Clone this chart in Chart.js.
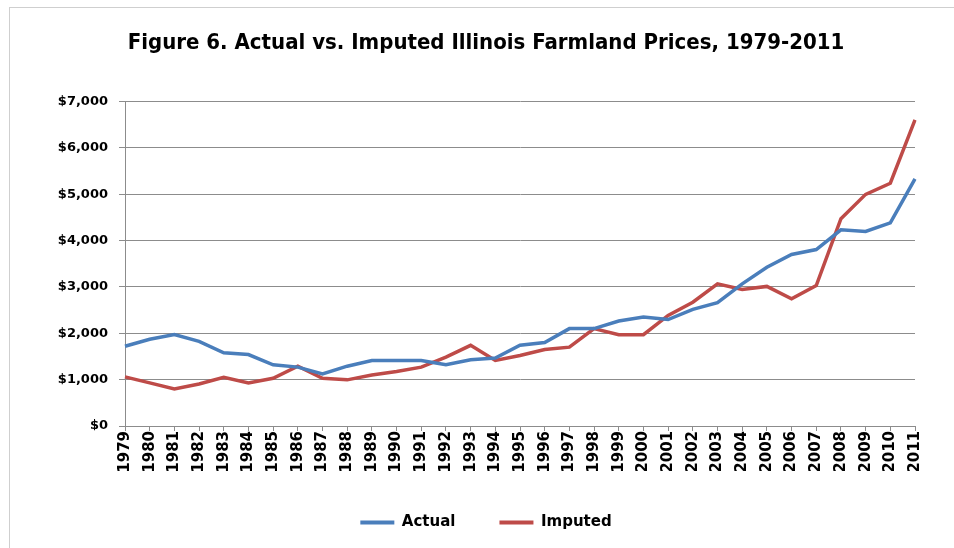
<!DOCTYPE html>
<html>
<head>
<meta charset="utf-8">
<script src="https://cdn.jsdelivr.net/npm/chart.js@4.4.1/dist/chart.umd.min.js"></script>
<style>
  html, body { margin: 0; padding: 0; background: #fff; }
  #wrap { position: relative; width: 954px; height: 548px; }
  #frame { position: absolute; left: 9px; top: 7px; right: 0; bottom: 0;
    border-top: 1px solid #cfcfcf; border-left: 1px solid #cfcfcf; pointer-events: none; }
</style>
</head>
<body>
<div id="wrap">
  <canvas id="myChart" width="954" height="548"></canvas>
  <div id="frame"></div>
</div>
<script>
'use strict';

const years = ['1979', '1980', '1981', '1982', '1983', '1984', '1985', '1986', '1987', '1988', '1989',
  '1990', '1991', '1992', '1993', '1994', '1995', '1996', '1997', '1998', '1999', '2000',
  '2001', '2002', '2003', '2004', '2005', '2006', '2007', '2008', '2009', '2010', '2011'];

// $ per acre
const actual = [1720, 1870, 1970, 1825, 1580, 1540, 1320, 1270, 1125, 1290, 1410,
  1410, 1410, 1320, 1430, 1465, 1740, 1800, 2100, 2100, 2265, 2350,
  2295, 2515, 2660, 3065, 3425, 3700, 3805, 4230, 4195, 4380, 5330];

const imputed = [1060, 930, 800, 905, 1050, 930, 1030, 1290, 1030, 995, 1100,
  1175, 1270, 1485, 1740, 1415, 1520, 1650, 1700, 2100, 1970, 1970,
  2385, 2670, 3065, 2945, 3010, 2745, 3030, 4470, 4995, 5235, 6600];

const yTicks = [0, 1000, 2000, 3000, 4000, 5000, 6000, 7000];

const gridGray = '#8c8c8c';

let ctx = document.getElementById('myChart').getContext('2d');
let chart = new Chart(ctx, {
  type: 'line',
  data: {
    labels: years,
    datasets: [{
      label: 'Actual',
      data: actual,
      borderColor: '#4a7ebb',
      backgroundColor: '#4a7ebb',
      borderWidth: 3.5,
      pointRadius: 0,
      tension: 0
    },
    {
      label: 'Imputed',
      data: imputed,
      borderColor: '#be4b48',
      backgroundColor: '#be4b48',
      borderWidth: 3.5,
      pointRadius: 0,
      tension: 0
    }]
  },
  options: {
    responsive: false,
    animation: false,
    layout: { padding: { left: 57, right: 39, top: 0, bottom: 8 } },
    plugins: {
      title: {
        display: true,
        text: 'Figure 6. Actual vs. Imputed Illinois Farmland Prices, 1979-2011',
        color: '#000',
        font: { family: "'DejaVu Sans Condensed', 'DejaVu Sans'", size: 22, weight: 'bold' },
        padding: { top: 30, bottom: 45 }
      },
      legend: {
        position: 'bottom',
        labels: {
          color: '#000',
          boxWidth: 34,
          boxHeight: 4,
          padding: 44,
          font: { family: "'DejaVu Sans'", size: 15, weight: 'bold' },
          generateLabels: function (c) {
            return Chart.defaults.plugins.legend.labels.generateLabels(c).map(function (l) {
              l.lineWidth = 0;
              return l;
            });
          }
        }
      },
      tooltip: { enabled: false }
    },
    scales: {
      x: {
        offset: false,
        grid: { display: true, drawOnChartArea: false, color: gridGray, tickLength: 5 },
        border: { color: gridGray },
        ticks: {
          color: '#000',
          autoSkip: false,
          minRotation: 90,
          maxRotation: 90,
          padding: 0,
          font: { family: "'DejaVu Sans'", size: 15, weight: 'bold' }
        },
        afterFit: function (scale) { scale.height = 45; }
      },
      y: {
        min: 0,
        max: 7000,
        afterBuildTicks: function (scale) {
          scale.ticks = yTicks.map(function (v) { return { value: v }; });
        },
        grid: { color: gridGray, tickLength: 6 },
        border: { color: gridGray },
        ticks: {
          color: '#000',
          padding: 11,
          font: { family: "'DejaVu Sans'", size: 13, weight: 'bold' },
          callback: function (v) { return '$' + v.toLocaleString('en-US'); }
        },
        afterFit: function (scale) { scale.width = 68; }
      }
    }
  }
});
</script>
</body>
</html>
